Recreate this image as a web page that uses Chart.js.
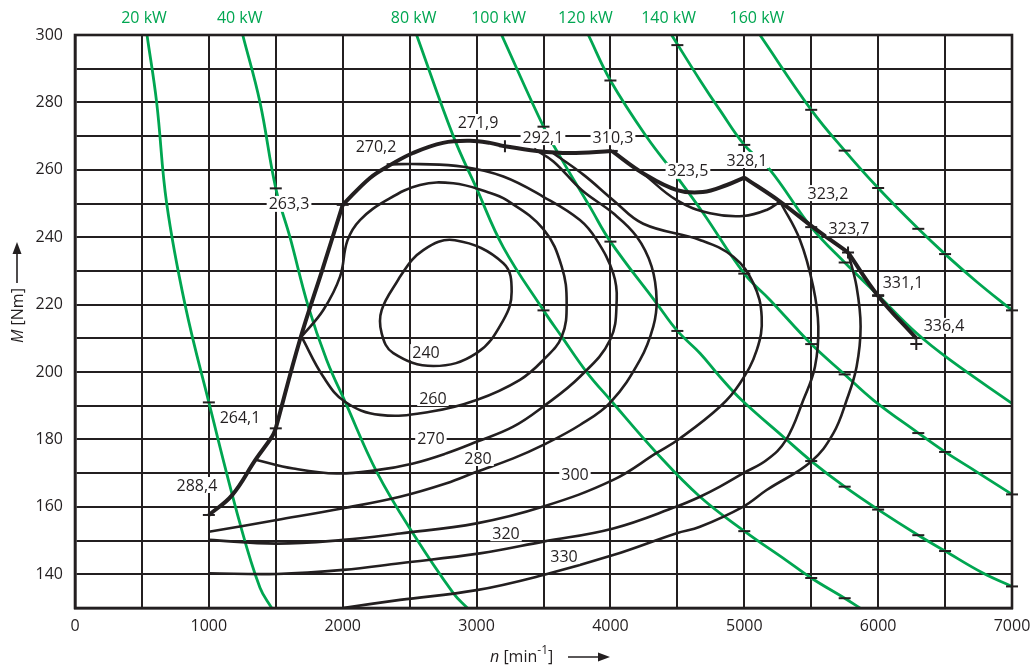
<!DOCTYPE html>
<html>
<head>
<meta charset="utf-8">
<script src="https://cdn.jsdelivr.net/npm/chart.js@4.4.1/dist/chart.umd.min.js"></script>
<style>
  html, body { margin: 0; padding: 0; background: #fff; }
  #wrap { width: 1031px; height: 667px; }
</style>
</head>
<body>
<div id="wrap"><canvas id="kennfeld" width="1031" height="667"></canvas></div>
<script>
// Achsen: Drehzahl n [min^-1], Drehmoment M [Nm]
const xTickLabels = [0, 1000, 2000, 3000, 4000, 5000, 6000, 7000];
const yTickLabels = [140, 160, 180, 200, 220, 240, 260, 280, 300];

// Leistungshyperbeln (gruen), Punkte [n, M]
const powerLabels = ['20 kW', '40 kW', '80 kW', '100 kW', '120 kW', '140 kW', '160 kW'];
const power20 = [[538,300],[610,280],[685,250],[822,220],[1000,191],[1233,155],[1382,136],[1469,130]];
const power40 = [[1253,300],[1382,280],[1500,254.5],[1606,240],[1743,219.4],[1880,203.6],[2020,191],[2254,170.4],[2527,152],[2826,134.4],[2931,130]];
const power80 = [[2552,300],[2826,270],[3000,254.5],[3200,237],[3500,218.3],[3636,210.5],[3822,200],[4000,191.7],[4345,176],[4669,163],[5000,152.8],[5311,144.2],[5500,138.9],[5750,132.9],[5864,130]];
const power100 = [[3187,300],[3500,272.8],[3623,264],[3847,249],[4000,238.7],[4345,220.4],[4500,212.2],[4669,205.6],[4818,198.6],[4980,191.7],[5291,180.8],[5500,173.6],[5750,166],[6000,159.2],[6300,151.6],[6500,146.9],[6786,140.3],[7000,136.4]];
const power120 = [[3835,300],[4000,286.5],[4270,269.8],[4495,258],[4694,247.1],[5000,229.2],[5192,221.4],[5500,208.3],[5750,199.3],[5964,191.7],[6300,181.9],[6500,176.3],[6736,170.4],[7000,163.7]];
const power140 = [[4457,300],[4669,286.6],[4818,277.7],[5000,267.4],[5192,260],[5500,243],[5750,232.5],[6000,222.8],[6288,211.5],[6537,203.6],[7000,190.7]];
const power160 = [[5117,300],[5500,277.8],[5750,265.7],[6000,254.6],[6300,242.5],[6500,235],[6736,226.8],[7000,218.3]];
const powerCurves = [power20, power40, power80, power100, power120, power140, power160];

// Striche auf den Hyperbeln
const powerTicks = [[1000,191],[1500,254.5],[3500,218.3],[5000,152.8],[5500,138.9],[5750,132.9],
  [3500,272.8],[4000,238.7],[4500,212.2],[5500,173.6],[5750,166],[6000,159.2],[6300,151.6],[6500,146.9],[7000,136.4],
  [4000,286.5],[5000,229.2],[5500,208.3],[5750,199.3],[6300,181.9],[6500,176.3],[7000,163.7],
  [4500,297],[5000,267.4],[5500,243],[5750,232.5],[6000,222.8],
  [5500,277.8],[5750,265.7],[6000,254.6],[6300,242.5],[6500,235],[7000,218.3]];

// Volllastkurve, in Abschnitten (Knicke)
const fullLoad1 = [[1000,157.6],[1174,163.5],[1349,174],[1473,180.9],[1500,183.3]];
const fullLoad2 = [[1500,183.3],[1680,209.5],[1853,231],[2000,249.6]];
const fullLoad3 = [[2000,249.6],[2204,257.6],[2353,261.4],[2525,265],[2749,268],[2951,268.6],[3100,268],[3212,267],[3451,265.6],[3698,265],[4010,265.6]];
const fullLoad4 = [[4010,265.6],[4243,259],[4497,254],[4690,253.4],[4870,255.5],[5000,257.7]];
const fullLoad5 = [[5000,257.7],[5267,250.6],[5513,243],[5775,235.5]];
const fullLoad6 = [[5775,235.5],[6000,222.6],[6285,210]];
const fullLoadDash = [[1000,157.6],[1500,183.3],[2000,249.6],[4010,265.6],[6000,222.6]];
const fullLoadCross = [[3212,267],[5775,235.5],[6285,208.3]];
const fullLoadValues = ['288,4','264,1','263,3','270,2','271,9','292,1','310,3','323,5','328,1','323,2','323,7','331,1','336,4'];
const fullLoadValueAt = [[911,166.5],[1233,186.4],[1599,249.9],[2249,266.8],[3011,274.2],[3496,269.7],[4019,269.7],[4579,259.7],[5020,262.9],[5625,253.1],[5782,242.7],[6186,226.7],[6492,213.7]];

// Linien gleichen spez. Verbrauchs be [g/kWh]
const be240 = [[2291,218.4],[2428,228.3],[2602,236.2],[2839,239.1],[3200,232.3],[3262,223.8],[3200,215.4],[3000,205.6],[2677,201.8],[2378,205.6],[2291,211.5],[2291,218.4]];
const be260 = [[1692,210.5],[1855,218.4],[1980,228.3],[2035,239],[2129,245.1],[2328,251],[2577,255.5],[2826,256],[3075,253.5],[3225,251],[3499,242.4],[3636,231.3],[3673,220.4],[3636,210.5],[3499,203.6],[3324,197.7],[3000,191.7],[2652,188.2],[2278,187.3],[2017,191.2],[1855,198.6],[1692,210.5]];
const be270 = [[1349,174],[1631,171.4],[1955,169.9],[2254,170.9],[2527,172.9],[2776,175.9],[3000,179.3],[3274,183.8],[3499,189.8],[3772,198.6],[3997,209.5],[4047,221.4],[4021,229.3],[3897,239.2],[3772,245.1],[3499,252],[3200,258],[2901,260.9],[2577,261.7],[2328,261.6]];
const be280 = [[1000,152.6],[1507,156.1],[2004,159.6],[2428,163],[2776,167],[3000,170.4],[3274,174.4],[3499,178.4],[3772,184.3],[4000,191],[4221,203.6],[4320,213.5],[4345,221.4],[4308,231.3],[4196,240.2],[4021,247.1],[3785,254],[3574,262.5],[3430,266.2]];
const be300 = [[1000,150.2],[1507,149.1],[2004,150.2],[2428,152.1],[3000,155.1],[3499,160.1],[4021,168],[4345,176],[4519,180.3],[4818,189.7],[4968,196.7],[5093,206.5],[5130,216.4],[5068,226.3],[4918,234.2],[4669,239.2],[4245,244],[4021,251],[3800,258.5],[3560,265.3]];
const be320 = [[1000,140.3],[1507,140.1],[2004,141.3],[2428,143.3],[3025,146.2],[3499,149.7],[4021,153.6],[4495,160.1],[4669,163],[4818,166],[4993,170],[5167,173.9],[5311,179.8],[5441,191.7],[5528,201.6],[5553,213.5],[5515,225.3],[5416,239.2],[5267,250.6]];
const be320top = [[4243,259],[4495,251],[4744,247.1],[4993,246.3],[5167,248.1],[5267,250.6]];
const be330 = [[2000,130],[2428,132.4],[3000,135.3],[3499,139.8],[4021,145.7],[4495,152.2],[4669,154.1],[4993,160.1],[5167,165],[5498,173.4],[5665,181.8],[5765,191.7],[5839,201.6],[5869,213.5],[5839,225.3],[5775,235.5]];
const beValues = ['240','260','270','280','300','320','330'];
const beValueAt = [[2622,205.9],[2674,192.3],[2659,180.4],[3011,174.5],[3735,169.5],[3220,152.2],[3653,145.4]];

const ink = '#231f20';
const green = '#00a651';
Chart.defaults.font.family = '"Open Sans", "Noto Sans", sans-serif';
Chart.defaults.font.size = 16;
Chart.defaults.color = ink;

function curve(points, color, width, order) {
  return {
    data: points.map(p => ({ x: p[0], y: p[1] })),
    showLine: true, borderColor: color, borderWidth: width,
    pointRadius: 0, tension: 0.4, fill: false, order: order
  };
}

function marks(points, style, order) {
  return {
    data: points.map(p => ({ x: p[0], y: p[1] })),
    showLine: false, pointStyle: style, pointRadius: 6,
    borderColor: ink, backgroundColor: ink, borderWidth: 2, clip: false, order: order
  };
}

// geschlossene Schleife: erster Abschnitt unsichtbar, damit der Schluss glatt wird
const loop240 = curve(be240.concat([be240[1]]), ink, 2.6, 2);
loop240.segment = { borderColor: c => c.p0DataIndex === 0 ? 'rgba(0,0,0,0)' : undefined };

const datasets = [];
powerCurves.forEach(c => datasets.push(curve(c, green, 2.8, 4)));
[be260, be270, be280, be300, be320, be320top, be330].forEach(c => datasets.push(curve(c, ink, 2.6, 2)));
datasets.push(loop240);
[fullLoad1, fullLoad2, fullLoad3, fullLoad4, fullLoad5, fullLoad6].forEach(c => datasets.push(curve(c, ink, 4, 1)));
datasets.push(marks(powerTicks, 'line', 0));
datasets.push(marks(fullLoadDash, 'line', 0));
datasets.push(marks(fullLoadCross, 'cross', 0));

function arrow(ctx, x1, y1, x2, y2) {
  const a = Math.atan2(y2 - y1, x2 - x1);
  ctx.beginPath();
  ctx.moveTo(x1, y1);
  ctx.lineTo(x2 - 9 * Math.cos(a), y2 - 9 * Math.sin(a));
  ctx.lineWidth = 1.6;
  ctx.stroke();
  ctx.beginPath();
  ctx.moveTo(x2, y2);
  ctx.lineTo(x2 - 12 * Math.cos(a) + 4.5 * Math.sin(a), y2 - 12 * Math.sin(a) - 4.5 * Math.cos(a));
  ctx.lineTo(x2 - 12 * Math.cos(a) - 4.5 * Math.sin(a), y2 - 12 * Math.sin(a) + 4.5 * Math.cos(a));
  ctx.closePath();
  ctx.fill();
}

const textLayer = {
  id: 'textLayer',
  afterDatasetsDraw(chart) {
    const { ctx, chartArea: a } = chart;
    const x = chart.scales.x, y = chart.scales.y;
    const fam = Chart.defaults.font.family;
    ctx.save();
    ctx.strokeStyle = ink;
    ctx.lineWidth = 2.6;
    ctx.strokeRect(a.left, a.top, a.width, a.height);

    ctx.font = '16px ' + fam;
    ctx.textAlign = 'center';
    ctx.textBaseline = 'middle';
    const put = (txt, at) => {
      const px = x.getPixelForValue(at[0]);
      const py = y.getPixelForValue(at[1]);
      const w = ctx.measureText(txt).width;
      ctx.fillStyle = '#fff';
      ctx.fillRect(px - w / 2 - 2, py - 8, w + 4, 16);
      ctx.fillStyle = ink;
      ctx.fillText(txt, px, py + 1);
    };
    fullLoadValues.forEach((t, i) => put(t, fullLoadValueAt[i]));
    beValues.forEach((t, i) => put(t, beValueAt[i]));

    // kW-Beschriftung oben
    ctx.fillStyle = green;
    powerCurves.forEach((c, i) => ctx.fillText(powerLabels[i], x.getPixelForValue(c[0][0]) - 3, 18));

    // y-Achsentitel
    ctx.fillStyle = ink;
    ctx.strokeStyle = ink;
    ctx.save();
    ctx.translate(17, 300);
    ctx.rotate(-Math.PI / 2);
    ctx.textAlign = 'left';
    ctx.font = 'italic 16px ' + fam;
    ctx.fillText('M', -43, 1);
    const mw = ctx.measureText('M').width;
    ctx.font = '16px ' + fam;
    ctx.fillText(' [Nm]', -43 + mw, 1);
    arrow(ctx, 17, 0, 58, 0);
    ctx.restore();

    // x-Achsentitel
    ctx.textAlign = 'left';
    let cx = 490;
    const ty = 657;
    ctx.font = 'italic 16px ' + fam;
    ctx.fillText('n', cx, ty);
    cx += ctx.measureText('n').width;
    ctx.font = '16px ' + fam;
    ctx.fillText(' [min', cx, ty);
    cx += ctx.measureText(' [min').width;
    ctx.font = '12px ' + fam;
    ctx.fillText('-1', cx, ty - 6);
    cx += ctx.measureText('-1').width;
    ctx.font = '16px ' + fam;
    ctx.fillText(']', cx, ty);
    arrow(ctx, 568, ty, 610, ty);
    ctx.restore();
  }
};

new Chart(document.getElementById('kennfeld'), {
  type: 'scatter',
  data: { datasets: datasets },
  options: {
    responsive: false,
    animation: false,
    events: [],
    layout: { padding: { top: 35, right: 19, left: 0, bottom: 0 } },
    plugins: { legend: { display: false }, tooltip: { enabled: false } },
    scales: {
      x: {
        type: 'linear', min: 0, max: 7000,
        afterFit: s => { s.height = 59; s.paddingLeft = 0; s.paddingRight = 0; },
        ticks: { stepSize: 500, autoSkip: false, maxTicksLimit: 40, maxRotation: 0, padding: 9,
          callback: v => xTickLabels.includes(v) ? String(v) : '' },
        grid: { color: ink, lineWidth: 2, drawTicks: false },
        border: { color: ink, width: 2.6 }
      },
      y: {
        type: 'linear', min: 130, max: 300,
        afterFit: s => { s.width = 75; s.paddingTop = 0; s.paddingBottom = 0; },
        ticks: { stepSize: 10, autoSkip: false, maxTicksLimit: 40, padding: 12,
          callback: v => yTickLabels.includes(v) ? String(v) : '' },
        grid: { color: ink, lineWidth: 2, drawTicks: false },
        border: { color: ink, width: 2.6 }
      }
    }
  },
  plugins: [textLayer]
});
</script>
</body>
</html>
